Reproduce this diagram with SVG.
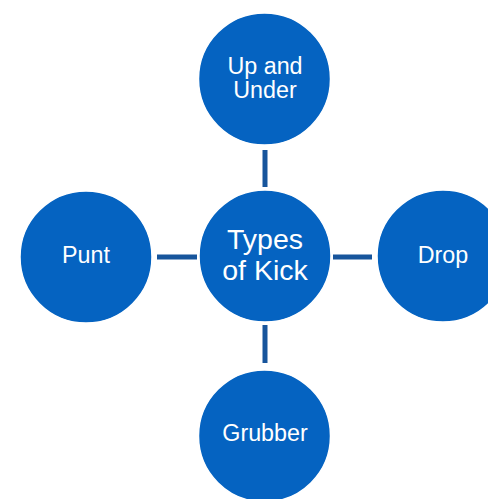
<svg xmlns="http://www.w3.org/2000/svg" width="488" height="499" viewBox="0 0 488 499">
<style>
.node{fill:#0563C1;stroke:#ffffff;stroke-width:1.5}
.lbl{fill:#ffffff;font-family:"Liberation Sans",Arial,sans-serif;font-size:23.3px;text-anchor:middle}
.big{font-size:28.5px}
.conn{stroke:#17559C;stroke-width:5;fill:none}
</style>
<rect width="488" height="499" fill="#ffffff"/>
<g id="connectors">
<line class="conn" x1="265" y1="150" x2="265" y2="187"/>
<line class="conn" x1="265" y1="325" x2="265" y2="363"/>
<line class="conn" x1="157" y1="257" x2="197" y2="257"/>
<line class="conn" x1="333" y1="257" x2="372" y2="257"/>
</g>
<g id="center">
<circle class="node" cx="265" cy="256" r="66"/>
<text class="lbl big" x="265" y="249">Types</text>
<text class="lbl big" x="265" y="280">of Kick</text>
</g>
<g id="up-and-under">
<circle class="node" cx="264.5" cy="79" r="66"/>
<text class="lbl" x="265" y="74">Up and</text>
<text class="lbl" x="265" y="98">Under</text>
</g>
<g id="punt">
<circle class="node" cx="86" cy="257" r="66"/>
<text class="lbl" x="86" y="263">Punt</text>
</g>
<g id="drop">
<circle class="node" cx="443" cy="256" r="66"/>
<text class="lbl" x="443" y="263">Drop</text>
</g>
<g id="grubber">
<circle class="node" cx="264.5" cy="436" r="66"/>
<text class="lbl" x="265" y="441">Grubber</text>
</g>
</svg>
